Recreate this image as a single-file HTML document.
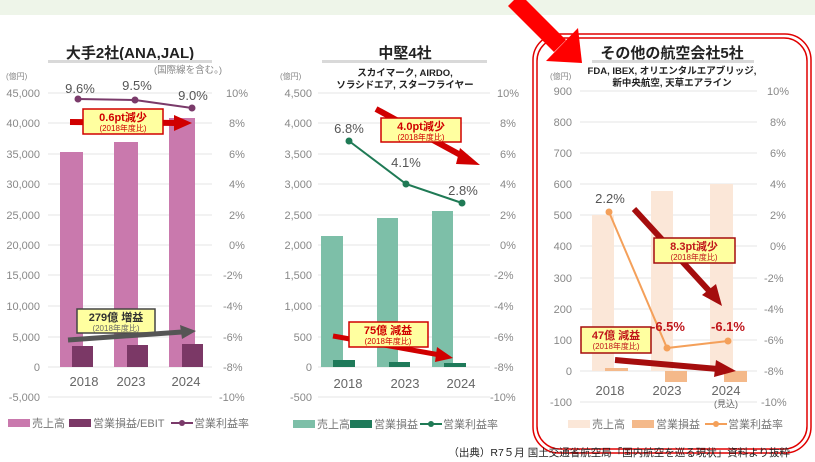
<!DOCTYPE html>
<html><head><meta charset="utf-8"><style>
html,body{margin:0;padding:0;background:#fff;}
svg{display:block;font-family:"Liberation Sans","Noto Sans CJK JP",sans-serif;}
</style></head><body>
<svg width="815" height="462" viewBox="0 0 815 462" xmlns="http://www.w3.org/2000/svg">
<rect x="0" y="0" width="815" height="15" fill="#eef5e9"/>

<!-- ========== Chart 1 ========== -->
<g>
<text x="130" y="58" font-size="15" font-weight="bold" text-anchor="middle" fill="#222">大手2社(ANA,JAL)</text>
<rect x="48" y="60" width="164" height="3" fill="#d9d9d9"/>
<text x="188" y="73" font-size="9.5" text-anchor="middle" fill="#888">(国際線を含む。)</text>
<text x="6" y="79" font-size="8" fill="#888">(億円)</text>
<g stroke="#e6e6e6" stroke-width="1">
<line x1="48" x2="212" y1="93" y2="93"/><line x1="48" x2="212" y1="123" y2="123"/><line x1="48" x2="212" y1="154" y2="154"/><line x1="48" x2="212" y1="184" y2="184"/><line x1="48" x2="212" y1="215" y2="215"/><line x1="48" x2="212" y1="245" y2="245"/><line x1="48" x2="212" y1="275" y2="275"/><line x1="48" x2="212" y1="306" y2="306"/><line x1="48" x2="212" y1="337" y2="337"/><line x1="48" x2="212" y1="367" y2="367"/><line x1="48" x2="212" y1="397" y2="397"/>
</g>
<g font-size="11" fill="#888" text-anchor="end">
<text x="40" y="97">45,000</text><text x="40" y="127">40,000</text><text x="40" y="158">35,000</text><text x="40" y="188">30,000</text><text x="40" y="219">25,000</text><text x="40" y="249">20,000</text><text x="40" y="279">15,000</text><text x="40" y="310">10,000</text><text x="40" y="341">5,000</text><text x="40" y="371">0</text><text x="40" y="401">-5,000</text>
</g>
<g font-size="11" fill="#888">
<text x="226" y="97">10%</text><text x="229" y="127">8%</text><text x="229" y="158">6%</text><text x="229" y="188">4%</text><text x="229" y="219">2%</text><text x="229" y="249">0%</text><text x="223" y="279">-2%</text><text x="223" y="310">-4%</text><text x="223" y="341">-6%</text><text x="223" y="371">-8%</text><text x="219" y="401">-10%</text>
</g>
<rect x="60" y="152" width="23" height="215" fill="#c979ad"/>
<rect x="114" y="142" width="24" height="225" fill="#c979ad"/>
<rect x="169" y="118" width="26" height="249" fill="#c979ad"/>
<rect x="72" y="346" width="21" height="21" fill="#7b3866"/>
<rect x="127" y="345" width="21" height="22" fill="#7b3866"/>
<rect x="182" y="344" width="21" height="23" fill="#7b3866"/>
<polyline points="78,99 135,100 192,108" fill="none" stroke="#7a3a6a" stroke-width="2"/>
<circle cx="78" cy="99" r="3.5" fill="#7a3a6a"/><circle cx="135" cy="100" r="3.5" fill="#7a3a6a"/><circle cx="192" cy="108" r="3.5" fill="#7a3a6a"/>
<g font-size="13" fill="#555" text-anchor="middle"><text x="80" y="93">9.6%</text><text x="137" y="90">9.5%</text><text x="193" y="100">9.0%</text></g>
<g font-size="13" fill="#666" text-anchor="middle"><text x="84" y="386">2018</text><text x="131" y="386">2023</text><text x="186" y="386">2024</text></g>
<line x1="70" y1="122" x2="178" y2="123" stroke="#d00000" stroke-width="6"/>
<polygon points="174,115 192,123 174,131" fill="#d00000"/>
<rect x="83" y="109" width="80" height="25" fill="#ffffa0" stroke="#d00000" stroke-width="1.5"/>
<text x="123" y="121" font-size="11" font-weight="bold" fill="#d00000" text-anchor="middle">0.6pt減少</text>
<text x="123" y="131" font-size="8" fill="#d00000" text-anchor="middle">(2018年度比)</text>
<rect x="77" y="309" width="78" height="24" fill="#ffffa0" stroke="#444" stroke-width="1.5"/>
<text x="116" y="321" font-size="11" font-weight="bold" fill="#333" text-anchor="middle">279億 増益</text>
<text x="116" y="331" font-size="8" fill="#666" text-anchor="middle">(2018年度比)</text>
<line x1="68" y1="340" x2="182" y2="332" stroke="#555" stroke-width="5"/>
<polygon points="180,325 196,331 182,339" fill="#555"/>
<rect x="8" y="419" width="22" height="8" fill="#c979ad"/><text x="32" y="427" font-size="11" fill="#777">売上高</text>
<rect x="69" y="419" width="22" height="8" fill="#7b3866"/><text x="93" y="427" font-size="11" fill="#777">営業損益/EBIT</text>
<line x1="171" y1="423" x2="193" y2="423" stroke="#7a3a6a" stroke-width="2"/><circle cx="182" cy="423" r="3" fill="#7a3a6a"/><text x="194" y="427" font-size="11" fill="#777">営業利益率</text>
</g>

<!-- ========== Chart 2 ========== -->
<g>
<text x="405" y="58" font-size="15" font-weight="bold" text-anchor="middle" fill="#222">中堅4社</text>
<rect x="322" y="60" width="165" height="3" fill="#d9d9d9"/>
<text x="405" y="76" font-size="9.5" font-weight="bold" text-anchor="middle" fill="#222">スカイマーク, AIRDO,</text>
<text x="405" y="88" font-size="9.5" font-weight="bold" text-anchor="middle" fill="#222">ソラシドエア, スターフライヤー</text>
<text x="280" y="79" font-size="8" fill="#888">(億円)</text>
<g stroke="#e6e6e6" stroke-width="1">
<line x1="318" x2="490" y1="93" y2="93"/><line x1="318" x2="490" y1="123" y2="123"/><line x1="318" x2="490" y1="154" y2="154"/><line x1="318" x2="490" y1="184" y2="184"/><line x1="318" x2="490" y1="215" y2="215"/><line x1="318" x2="490" y1="245" y2="245"/><line x1="318" x2="490" y1="275" y2="275"/><line x1="318" x2="490" y1="306" y2="306"/><line x1="318" x2="490" y1="337" y2="337"/><line x1="318" x2="490" y1="367" y2="367"/><line x1="318" x2="490" y1="397" y2="397"/>
</g>
<g font-size="11" fill="#888" text-anchor="end">
<text x="312" y="97">4,500</text><text x="312" y="127">4,000</text><text x="312" y="158">3,500</text><text x="312" y="188">3,000</text><text x="312" y="219">2,500</text><text x="312" y="249">2,000</text><text x="312" y="279">1,500</text><text x="312" y="310">1,000</text><text x="312" y="341">500</text><text x="312" y="371">0</text><text x="312" y="401">-500</text>
</g>
<g font-size="11" fill="#888">
<text x="497" y="97">10%</text><text x="500" y="127">8%</text><text x="500" y="158">6%</text><text x="500" y="188">4%</text><text x="500" y="219">2%</text><text x="500" y="249">0%</text><text x="494" y="279">-2%</text><text x="494" y="310">-4%</text><text x="494" y="341">-6%</text><text x="494" y="371">-8%</text><text x="490" y="401">-10%</text>
</g>
<rect x="321" y="236" width="22" height="131" fill="#7dbfa8"/>
<rect x="377" y="218" width="21" height="149" fill="#7dbfa8"/>
<rect x="432" y="211" width="21" height="156" fill="#7dbfa8"/>
<rect x="333" y="360" width="22" height="7" fill="#1f7a5a"/>
<rect x="389" y="362" width="21" height="5" fill="#1f7a5a"/>
<rect x="444" y="363" width="22" height="4" fill="#1f7a5a"/>
<polyline points="349,141 406,184 462,203" fill="none" stroke="#1f7a55" stroke-width="2"/>
<circle cx="349" cy="141" r="3.5" fill="#1f7a55"/><circle cx="406" cy="184" r="3.5" fill="#1f7a55"/><circle cx="462" cy="203" r="3.5" fill="#1f7a55"/>
<g font-size="13" fill="#555" text-anchor="middle"><text x="349" y="133">6.8%</text><text x="406" y="167">4.1%</text><text x="463" y="195">2.8%</text></g>
<g font-size="13" fill="#666" text-anchor="middle"><text x="348" y="388">2018</text><text x="405" y="388">2023</text><text x="461" y="388">2024</text></g>
<line x1="376" y1="109" x2="466" y2="158" stroke="#d00000" stroke-width="6"/>
<polygon points="460,148 480,165 456,164" fill="#d00000"/>
<rect x="381" y="118" width="80" height="24" fill="#ffffa0" stroke="#d00000" stroke-width="1.5"/>
<text x="421" y="130" font-size="11" font-weight="bold" fill="#d00000" text-anchor="middle">4.0pt減少</text>
<text x="421" y="140" font-size="8" fill="#d00000" text-anchor="middle">(2018年度比)</text>
<line x1="333" y1="336" x2="440" y2="355" stroke="#d00000" stroke-width="5"/>
<polygon points="437,347 453,358 435,362" fill="#d00000"/>
<rect x="349" y="322" width="79" height="25" fill="#ffffa0" stroke="#d00000" stroke-width="1.5"/>
<text x="388" y="334" font-size="11" font-weight="bold" fill="#d00000" text-anchor="middle">75億 減益</text>
<text x="388" y="344" font-size="8" fill="#d00000" text-anchor="middle">(2018年度比)</text>
<rect x="293" y="420" width="22" height="8" fill="#7dbfa8"/><text x="317" y="428" font-size="11" fill="#777">売上高</text>
<rect x="350" y="420" width="22" height="8" fill="#1f7a5a"/><text x="374" y="428" font-size="11" fill="#777">営業損益</text>
<line x1="420" y1="424" x2="442" y2="424" stroke="#1f7a55" stroke-width="2"/><circle cx="431" cy="424" r="3" fill="#1f7a55"/><text x="443" y="428" font-size="11" fill="#777">営業利益率</text>
</g>

<!-- ========== Chart 3 ========== -->
<g>
<rect x="533" y="34" width="278" height="419" rx="26" fill="none" stroke="#e00000" stroke-width="1.5"/>
<rect x="537" y="38" width="270" height="411" rx="23" fill="none" stroke="#e00000" stroke-width="1.5"/>
<text x="672" y="58" font-size="15" font-weight="bold" text-anchor="middle" fill="#222">その他の航空会社5社</text>
<rect x="592" y="60" width="162" height="3" fill="#d9d9d9"/>
<text x="672" y="74" font-size="9.5" font-weight="bold" text-anchor="middle" fill="#222">FDA, IBEX, オリエンタルエアブリッジ,</text>
<text x="672" y="86" font-size="9.5" font-weight="bold" text-anchor="middle" fill="#222">新中央航空, 天草エアライン</text>
<text x="550" y="79" font-size="8" fill="#888">(億円)</text>
<g stroke="#e6e6e6" stroke-width="1">
<line x1="580" x2="757" y1="91" y2="91"/><line x1="580" x2="757" y1="122" y2="122"/><line x1="580" x2="757" y1="153" y2="153"/><line x1="580" x2="757" y1="184" y2="184"/><line x1="580" x2="757" y1="215" y2="215"/><line x1="580" x2="757" y1="246" y2="246"/><line x1="580" x2="757" y1="278" y2="278"/><line x1="580" x2="757" y1="309" y2="309"/><line x1="580" x2="757" y1="340" y2="340"/><line x1="580" x2="757" y1="371" y2="371"/><line x1="580" x2="757" y1="402" y2="402"/>
</g>
<g font-size="11" fill="#888" text-anchor="end">
<text x="572" y="95">900</text><text x="572" y="126">800</text><text x="572" y="157">700</text><text x="572" y="188">600</text><text x="572" y="219">500</text><text x="572" y="250">400</text><text x="572" y="282">300</text><text x="572" y="313">200</text><text x="572" y="344">100</text><text x="572" y="375">0</text><text x="572" y="406">-100</text>
</g>
<g font-size="11" fill="#888">
<text x="767" y="95">10%</text><text x="770" y="126">8%</text><text x="770" y="157">6%</text><text x="770" y="188">4%</text><text x="770" y="219">2%</text><text x="770" y="250">0%</text><text x="764" y="282">-2%</text><text x="764" y="313">-4%</text><text x="764" y="344">-6%</text><text x="764" y="375">-8%</text><text x="761" y="406">-10%</text>
</g>
<rect x="592" y="215" width="22" height="156" fill="#fbe7d8"/>
<rect x="651" y="191" width="22" height="180" fill="#fbe7d8"/>
<rect x="710" y="184" width="23" height="187" fill="#fbe7d8"/>
<rect x="605" y="368" width="23" height="3" fill="#f4b98a"/>
<rect x="665" y="371" width="22" height="11" fill="#f4b98a"/>
<rect x="724" y="371" width="23" height="11" fill="#f4b98a"/>
<polyline points="609,212 667,348 728,341" fill="none" stroke="#f4a05a" stroke-width="2"/>
<circle cx="609" cy="212" r="3.5" fill="#f4a05a"/><circle cx="667" cy="348" r="3.5" fill="#f4a05a"/><circle cx="728" cy="341" r="3.5" fill="#f4a05a"/>
<text x="610" y="203" font-size="13" fill="#555" text-anchor="middle">2.2%</text>
<g font-size="13" font-weight="bold" fill="#c0161b" text-anchor="middle"><text x="668" y="331">-6.5%</text><text x="728" y="331">-6.1%</text></g>
<g font-size="13" fill="#666" text-anchor="middle"><text x="610" y="395">2018</text><text x="667" y="395">2023</text><text x="726" y="395">2024</text><text x="726" y="407" font-size="9">(見込)</text></g>
<line x1="634" y1="209" x2="712" y2="294" stroke="#a50d0d" stroke-width="6"/>
<polygon points="702,295 722,306 716,284" fill="#a50d0d"/>
<rect x="654" y="238" width="81" height="25" fill="#ffffa0" stroke="#a50d0d" stroke-width="1.5"/>
<text x="694" y="250" font-size="11" font-weight="bold" fill="#c0161b" text-anchor="middle">8.3pt減少</text>
<text x="694" y="260" font-size="8" fill="#c0161b" text-anchor="middle">(2018年度比)</text>
<rect x="581" y="327" width="70" height="26" fill="#ffffa0" stroke="#a50d0d" stroke-width="1.5"/>
<text x="616" y="339" font-size="11" font-weight="bold" fill="#c0161b" text-anchor="middle">47億 減益</text>
<text x="616" y="349" font-size="8" fill="#c0161b" text-anchor="middle">(2018年度比)</text>
<line x1="615" y1="360" x2="718" y2="369" stroke="#a50d0d" stroke-width="6"/>
<polygon points="716,360 736,371 714,377" fill="#a50d0d"/>
<rect x="568" y="420" width="22" height="8" fill="#fbe7d8"/><text x="592" y="428" font-size="11" fill="#777">売上高</text>
<rect x="632" y="420" width="22" height="8" fill="#f4b98a"/><text x="656" y="428" font-size="11" fill="#777">営業損益</text>
<line x1="705" y1="424" x2="727" y2="424" stroke="#f4a05a" stroke-width="2"/><circle cx="716" cy="424" r="3" fill="#f4a05a"/><text x="728" y="428" font-size="11" fill="#777">営業利益率</text>
</g>

<!-- big red arrow -->
<line x1="514" y1="0" x2="560" y2="46" stroke="#ff0000" stroke-width="17"/>
<polygon points="578,28 546,61 582,63" fill="#ff0000"/>

<text x="790" y="456" font-size="10.5" fill="#222" text-anchor="end">（出典）R7５月  国土交通省航空局「国内航空を巡る現状」資料より抜粋</text>
</svg>
</body></html>
